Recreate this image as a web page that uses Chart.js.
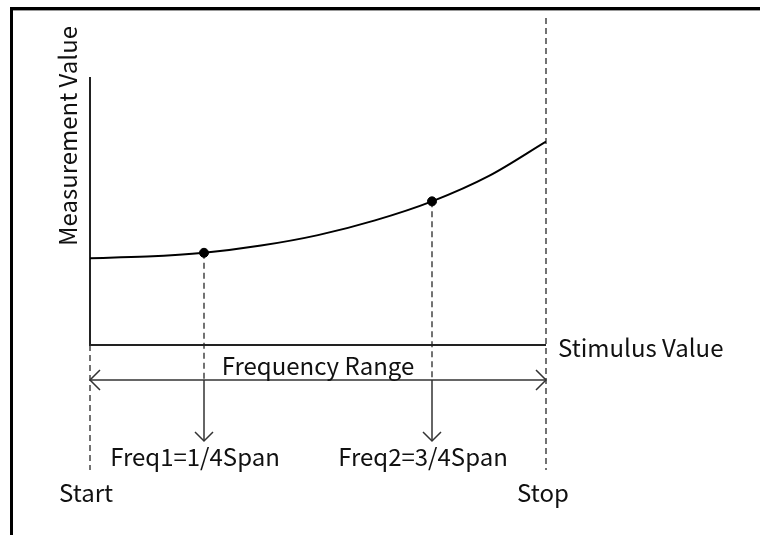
<!DOCTYPE html>
<html>
<head>
<meta charset="utf-8">
<script src="https://cdn.jsdelivr.net/npm/chart.js@4"></script>
<style>
  body { margin: 0; background: #fff; }
</style>
</head>
<body>
<canvas id="grafico" width="760" height="535"></canvas>
<script>
// curve (x = fraction of span, y = arbitrary units)
const spanX = [0, 0.125, 0.25, 0.375, 0.5, 0.625, 0.75, 0.875, 1];
const medida = [32.4, 33.0, 34.4, 37.1, 41.0, 46.5, 53.6, 63.1, 75.9];
// the two marker frequencies
const markerX = [0.25, 0.75];
const markerY = [34.4, 53.6];
const markerLabels = ['Freq1=1/4Span', 'Freq2=3/4Span'];
const endLabels = ['Start', 'Stop'];
const FONTE = '24px "Noto Sans CJK JP", "Noto Sans", sans-serif';

function seta(ctx, x, y, dx, dy) {
  // open chevron with tip at x,y, arms going back by dx/dy
  ctx.beginPath();
  ctx.moveTo(x + dx - dy, y + dy + dx);
  ctx.lineTo(x, y);
  ctx.lineTo(x + dx + dy, y + dy - dx);
  ctx.stroke();
}

const desenho = {
  beforeDatasetsDraw({ctx, chartArea, scales: {x, y}}) {
    const x0 = x.getPixelForValue(0), x1 = x.getPixelForValue(1);
    const yb = y.getPixelForValue(0), yt = y.getPixelForValue(100);
    const yArrow = yb + 35;
    ctx.save();
    // frame
    ctx.fillStyle = '#000';
    ctx.fillRect(10, 7, 750, 3);
    ctx.fillRect(10, 7, 3, 528);
    ctx.fillStyle = '#999';
    ctx.fillRect(13, 10, 747, 1);

    // dashed guides
    ctx.strokeStyle = '#444';
    ctx.lineWidth = 1.5;
    ctx.setLineDash([6, 4]);
    ctx.beginPath();
    ctx.moveTo(x0, yb); ctx.lineTo(x0, yb + 125);
    ctx.moveTo(x1, yt - 59); ctx.lineTo(x1, yb + 125);
    markerX.forEach((m, i) => {
      const px = x.getPixelForValue(m);
      ctx.moveTo(px, y.getPixelForValue(markerY[i])); ctx.lineTo(px, yArrow);
    });
    ctx.stroke();
    ctx.setLineDash([]);

    // axes
    ctx.strokeStyle = '#222';
    ctx.lineWidth = 2;
    ctx.beginPath();
    ctx.moveTo(x0, yt); ctx.lineTo(x0, yb); ctx.lineTo(x1, yb);
    ctx.stroke();

    // frequency range double arrow
    ctx.strokeStyle = '#333';
    ctx.lineWidth = 1.5;
    ctx.beginPath();
    ctx.moveTo(x0, yArrow); ctx.lineTo(x1, yArrow);
    ctx.stroke();
    seta(ctx, x0, yArrow, 10, 0);
    seta(ctx, x1, yArrow, -10, 0);

    // down arrows to marker labels
    markerX.forEach(m => {
      const px = x.getPixelForValue(m);
      ctx.beginPath();
      ctx.moveTo(px, yArrow); ctx.lineTo(px, yArrow + 61);
      ctx.stroke();
      seta(ctx, px, yArrow + 61, 0, -9);
    });
    ctx.restore();
  },
  afterDraw({ctx, scales: {x, y}}) {
    const x0 = x.getPixelForValue(0), x1 = x.getPixelForValue(1);
    const yb = y.getPixelForValue(0);
    ctx.save();
    ctx.font = FONTE;
    ctx.fillStyle = '#111';
    ctx.textBaseline = 'middle';
    ctx.textAlign = 'center';
    ctx.fillText('Frequency Range', (x0 + x1) / 2, yb + 21);
    markerX.forEach((m, i) => {
      ctx.fillText(markerLabels[i], x.getPixelForValue(m) - 9, yb + 112);
    });
    ctx.fillText(endLabels[0], x0 - 4, yb + 148);
    ctx.fillText(endLabels[1], x1 - 3, yb + 148);
    ctx.textAlign = 'left';
    ctx.fillText('Stimulus Value', x1 + 12, yb + 3);
    ctx.translate(68, 136);
    ctx.rotate(-Math.PI / 2);
    ctx.textAlign = 'center';
    ctx.fillText('Measurement Value', 0, 0);
    ctx.restore();
  }
};

new Chart(document.getElementById('grafico'), {
  type: 'line',
  data: {
    datasets: [{
      data: spanX.map((v, i) => ({x: v, y: medida[i]})),
      borderColor: '#000',
      borderWidth: 2,
      pointRadius: 0,
      cubicInterpolationMode: 'monotone',
      fill: false
    }, {
      data: markerX.map((v, i) => ({x: v, y: markerY[i]})),
      showLine: false,
      pointRadius: 4.5,
      pointBackgroundColor: '#000',
      pointBorderColor: '#000'
    }]
  },
  options: {
    responsive: false,
    animation: false,
    layout: { padding: { left: 90, top: 77, right: 214, bottom: 190 } },
    scales: {
      x: { type: 'linear', min: 0, max: 1, display: false },
      y: { min: 0, max: 100, display: false }
    },
    plugins: {
      legend: { display: false },
      tooltip: { enabled: false }
    }
  },
  plugins: [desenho]
});
</script>
</body>
</html>
